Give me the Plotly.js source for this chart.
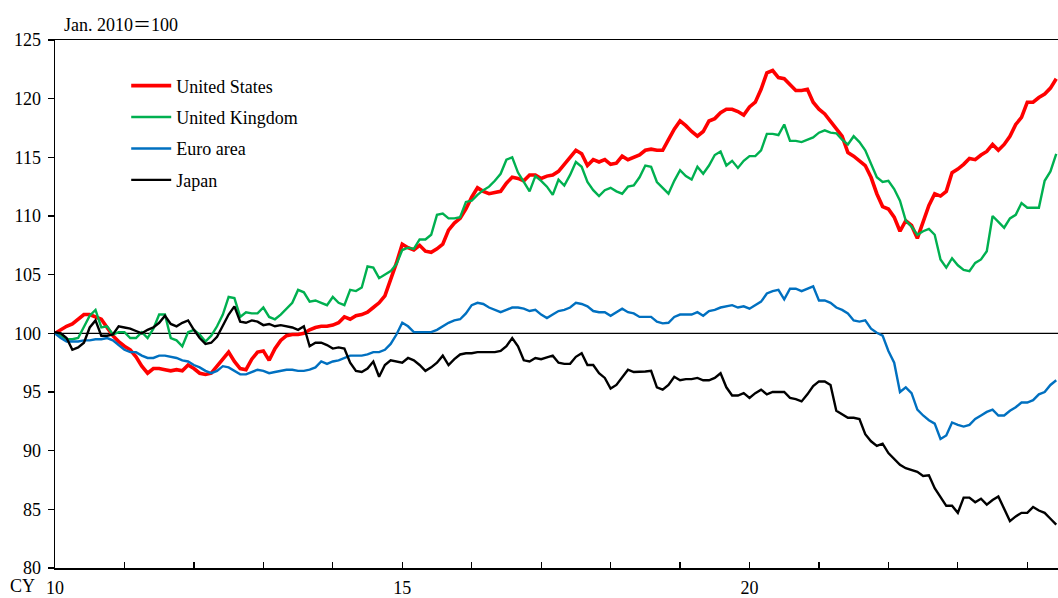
<!DOCTYPE html>
<html>
<head>
<meta charset="utf-8">
<script src="https://cdn.plot.ly/plotly-3.0.1.min.js"></script>
<style>html,body{margin:0;padding:0;background:#fff;}#chart{width:1058px;height:598px;}</style>
</head>
<body>
<div id="chart"></div>
<script>
// Monthly indices, Jan. 2010 = 100, Jan 2010 .. Jun 2024
const startYear = 2010;
const seriesNames = ["United States", "United Kingdom", "Euro area", "Japan"];
const seriesColors = ["#FF0000", "#00B050", "#0070C0", "#000000"];

const unitedStates = [
100.0,100.3,100.6,100.8,101.2,101.6,101.6,101.4,101.2,100.5,99.8,99.3,98.9,98.6,98.0,97.2,96.6,97.0,97.0,96.9,96.8,96.9,96.8,97.3,97.0,96.6,96.5,96.6,97.2,97.9,98.4,97.6,97.0,96.9,97.8,98.4,98.5,97.7,98.7,99.4,99.8,99.9,99.9,
100.0,100.3,100.5,100.6,100.6,100.7,100.9,101.4,101.2,101.5,101.6,101.8,102.2,102.6,103.2,104.5,106.0,107.6,107.3,107.1,107.5,107.0,106.9,107.2,107.6,108.8,109.4,109.8,110.6,111.6,112.4,112.1,111.9,112.0,112.1,112.8,113.3,113.2,113.0,113.5,113.5,
113.2,113.4,113.5,113.8,114.4,115.0,115.6,115.3,114.3,114.8,114.6,114.8,114.4,114.5,115.1,114.8,115.0,115.2,115.6,115.7,115.6,115.6,116.5,117.4,118.1,117.7,117.2,116.8,117.2,118.1,118.3,118.8,119.1,119.1,118.9,118.6,119.3,119.7,120.8,122.2,
122.4,121.8,121.7,121.2,120.7,120.7,120.8,119.7,119.1,118.7,118.1,117.5,116.8,115.4,115.1,114.7,114.3,113.3,111.9,110.8,110.6,109.9,108.7,109.6,109.2,108.1,109.5,110.9,111.9,111.7,112.1,113.7,114.0,114.4,114.9,114.8,115.2,115.5,116.1,115.6,116.1,116.8,117.8,118.4,119.7,119.7,120.1,120.4,120.9,121.7
];
const unitedKingdom = [
100.0,99.8,99.5,99.5,99.6,100.5,101.5,102.0,100.5,100.6,99.9,100.1,100.1,99.6,99.6,100.1,99.6,100.4,101.6,101.6,99.6,99.4,98.9,100.1,100.3,99.9,99.3,99.8,100.6,101.6,103.1,103.0,101.4,101.8,101.7,101.7,102.2,101.4,101.2,101.6,102.1,102.6,103.7,
103.5,102.7,102.8,102.6,102.4,103.1,102.6,102.4,103.7,103.6,103.9,105.7,105.6,104.7,105.0,105.3,105.9,107.1,107.3,107.2,108.0,108.0,108.4,110.1,110.2,109.8,109.8,109.9,111.2,111.3,111.8,112.2,112.5,113.0,113.6,114.8,115.0,113.7,112.9,112.1,113.4,
113.0,112.5,111.8,113.1,112.6,113.5,114.6,114.2,112.9,112.2,111.7,112.2,112.4,112.1,111.9,112.5,112.6,113.3,114.3,114.2,112.9,112.4,111.9,113.0,113.9,113.4,113.1,114.2,113.6,114.3,115.2,115.5,114.3,114.7,114.1,114.7,115.1,115.1,115.6,117.0,
117.0,116.9,117.8,116.4,116.4,116.3,116.5,116.7,117.1,117.3,117.1,117.05,116.5,116.1,116.8,116.3,115.6,114.5,113.3,112.9,113.0,112.3,111.3,109.6,109.1,108.4,108.7,108.9,108.4,106.3,105.6,106.4,105.8,105.4,105.3,106.0,106.3,107.0,110.0,109.5,109.0,109.8,110.1,111.1,110.7,110.7,110.7,113.0,113.8,115.3
];
const euroArea = [
100.0,99.6,99.3,99.3,99.3,99.4,99.4,99.5,99.5,99.6,99.4,99.0,98.6,98.4,98.4,98.1,97.9,97.9,98.1,98.1,98.0,97.9,97.7,97.6,97.3,97.1,96.8,96.6,96.8,97.2,97.1,96.8,96.5,96.5,96.7,96.9,96.8,96.6,96.7,96.8,96.9,96.9,96.8,
96.8,96.9,97.1,97.6,97.4,97.6,97.7,97.9,98.1,98.1,98.1,98.2,98.4,98.4,98.6,99.1,99.9,100.9,100.6,100.1,100.1,100.05,100.1,100.3,100.6,100.9,101.1,101.2,101.7,102.4,102.6,102.5,102.2,102.0,101.8,102.0,102.2,102.2,102.1,101.9,102.0,
101.6,101.3,101.6,101.9,102.0,102.2,102.6,102.5,102.3,101.9,101.8,101.8,101.5,101.8,102.1,101.8,101.7,101.4,101.4,101.4,101.0,100.85,100.9,101.4,101.6,101.6,101.6,101.8,101.5,101.9,102.0,102.2,102.3,102.4,102.2,102.3,102.1,102.4,102.7,103.4,
103.6,103.7,102.9,103.8,103.8,103.6,103.8,104.0,102.8,102.8,102.6,102.2,102.0,101.7,101.1,101.0,101.1,100.4,100.05,99.8,98.5,97.5,95.0,95.4,94.9,93.5,93.0,92.6,92.3,91.0,91.3,92.4,92.2,92.05,92.2,92.7,93.0,93.3,93.5,93.0,93.0,93.4,93.7,94.1,94.1,94.3,94.8,95.0,95.6,96.0
];
const japan = [
100.1,100.0,99.6,98.6,98.8,99.2,100.5,101.1,99.8,99.8,99.9,100.6,100.5,100.4,100.2,100.0,100.3,100.5,100.9,101.5,100.8,100.6,100.9,101.1,100.3,99.6,99.1,99.2,99.7,100.6,101.6,102.3,101.0,100.9,101.1,101.0,100.7,100.8,100.6,100.7,100.6,100.5,100.3,
100.6,98.9,99.2,99.2,99.0,98.7,98.8,98.7,97.5,96.8,96.7,97.0,97.6,96.3,97.3,97.7,97.6,97.5,97.9,97.7,97.3,96.8,97.1,97.5,98.1,97.3,97.8,98.2,98.3,98.3,98.4,98.4,98.4,98.4,98.5,98.9,99.6,98.9,97.7,97.6,97.9,
97.8,97.95,98.1,97.5,97.4,97.4,98.0,98.3,97.3,97.3,96.6,96.2,95.3,95.6,96.3,96.9,96.7,96.7,96.75,96.8,95.4,95.2,95.6,96.3,96.0,96.1,96.1,96.2,96.0,96.0,96.2,96.6,95.4,94.7,94.7,94.9,94.5,94.9,95.2,94.8,
95.0,95.0,95.0,94.5,94.4,94.2,94.8,95.5,95.9,95.9,95.6,93.4,93.1,92.8,92.8,92.7,91.4,90.8,90.4,90.6,89.8,89.3,88.8,88.5,88.35,88.2,87.85,87.9,86.8,86.0,85.3,85.3,84.7,86.0,86.0,85.6,85.9,85.4,85.8,86.1,85.0,84.0,84.4,84.7,84.7,85.2,84.9,84.7,84.2,83.7
];

const yearTicks = [2010,2011,2012,2013,2014,2015,2016,2017,2018,2019,2020,2021,2022,2023,2024];
const yearTickText = ["10","","","","","15","","","","","20","","","",""];
const yTicks = [80,85,90,95,100,105,110,115,120,125];

const months = unitedStates.map((_, i) => startYear + i / 12);
const allSeries = [unitedStates, unitedKingdom, euroArea, japan];
const widths = [3.6, 2.4, 2.4, 2.4];

const traces = allSeries.map((vals, k) => ({
  x: months, y: vals, type: "scatter", mode: "lines",
  name: seriesNames[k], legendgroup: "g" + k,
  line: {color: seriesColors[k], width: widths[k]},
  hoverinfo: "skip"
}));

const serif = "Liberation Serif";
const font = {family: serif, size: 18, color: "#000"};

const layout = {
  width: 1058, height: 598,
  margin: {l: 55, r: 0, t: 40, b: 30, pad: 0},
  paper_bgcolor: "#fff", plot_bgcolor: "#fff",
  font: font,
  showlegend: true,
  legend: {x: 0.071, y: 0.948, xanchor: "left", yanchor: "top", bgcolor: "rgba(0,0,0,0)",
           borderwidth: 0, font: font, tracegroupgap: 5, itemwidth: 40},
  xaxis: {range: [2010, 2010 + 1003 / 69.45], tickvals: yearTicks, ticktext: yearTickText,
          ticks: "inside", ticklen: 6, tickwidth: 1.3, tickcolor: "#000",
          showline: true, linecolor: "#000", linewidth: 1.5, mirror: true,
          showgrid: false, zeroline: false, tickfont: font, ticklabelstandoff: 3, fixedrange: true},
  yaxis: {range: [80, 125], tickvals: yTicks, ticks: "outside", ticklen: 6, tickwidth: 1.3,
          tickcolor: "#000", showline: true, linecolor: "#000", linewidth: 1.5,
          showgrid: false, zeroline: false, tickfont: font, ticklabelstandoff: 3, fixedrange: true},
  shapes: [{type: "line", xref: "paper", x0: 0, x1: 1, yref: "y", y0: 100, y1: 100,
            line: {color: "#000", width: 1.2}, layer: "below"}],
  annotations: [
    {text: "Jan. 2010＝100", xref: "paper", yref: "paper", x: 0.007, y: 1.0, yshift: 3,
     xanchor: "left", yanchor: "bottom", showarrow: false,
     font: {family: serif + ", Noto Sans CJK JP", size: 18, color: "#000"}},
    {text: "CY", xref: "paper", yref: "paper", x: 0, xshift: -46, y: 0, yshift: -7,
     xanchor: "left", yanchor: "top", showarrow: false, borderpad: 0, font: font}
  ]
};

Plotly.newPlot("chart", traces, layout, {displayModeBar: false, staticPlot: true});
</script>
</body>
</html>
